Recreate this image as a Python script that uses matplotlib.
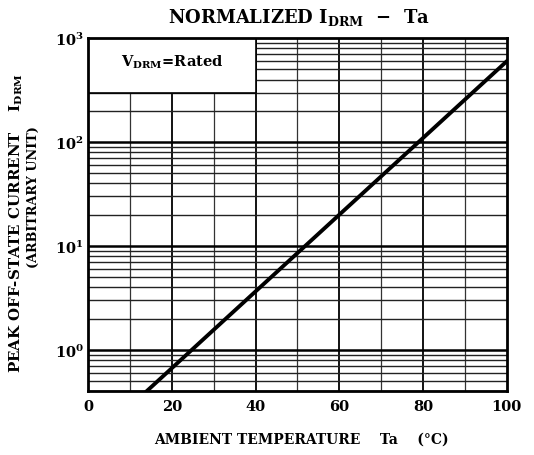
import matplotlib
matplotlib.use("Agg")
import matplotlib.pyplot as plt
import numpy as np
from matplotlib.patches import Rectangle

FONT = 'DejaVu Serif'
plt.rcParams['mathtext.fontset'] = 'custom'
plt.rcParams['mathtext.rm'] = 'DejaVu Serif:bold'
plt.rcParams['mathtext.bf'] = 'DejaVu Serif:bold'
plt.rcParams['mathtext.it'] = 'DejaVu Serif:bold'

# data
temperature = [14, 100]
current = [0.4, 600]
x_ticks = [0, 20, 40, 60, 80, 100]
y_ticks = [1, 10, 100, 1000]
y_ticklabels = [r"$10^{0}$", r"$10^{1}$", r"$10^{2}$", r"$10^{3}$"]

fig = plt.figure(figsize=(5.34, 4.56), dpi=100)
ax = fig.add_axes([0.165, 0.140, 0.784, 0.774])
ax.set_yscale('log')
ax.set_xlim(0, 100)
ax.set_ylim(0.4, 1000)

# grid
for xv in range(10, 100, 10):
    if xv % 20 == 0:
        ax.axvline(xv, color='black', lw=1.3, zorder=1)
    else:
        ax.axvline(xv, color='#333333', lw=0.9, zorder=1)
for dec in [0.1, 1, 10, 100]:
    for m in range(1, 10):
        yv = dec * m
        if yv < 0.4 or yv >= 1000:
            continue
        if m == 1:
            ax.axhline(yv, color='black', lw=1.8, zorder=1)
        else:
            ax.axhline(yv, color='#222222', lw=1.0, zorder=1)

# box for condition label
ax.add_patch(Rectangle((0, 300), 40, 700, facecolor='white', edgecolor='black',
                       lw=1.2, zorder=2))
ax.text(20, 600, r"V$_{\mathrm{DRM}}$=Rated", ha='center', va='center',
        fontsize=10.5, family=FONT, fontweight='bold', zorder=3)

ax.plot(temperature, current, color='black', lw=2.8, zorder=4)

for sp in ax.spines.values():
    sp.set_linewidth(2)
    sp.set_zorder(5)

ax.set_xticks(x_ticks)
ax.set_xticklabels([str(v) for v in x_ticks], family=FONT,
                   fontweight='bold', fontsize=10.5)
ax.set_yticks(y_ticks)
ax.set_yticklabels(y_ticklabels, fontsize=10.5)
ax.yaxis.set_minor_locator(matplotlib.ticker.NullLocator())
ax.tick_params(axis='x', length=0, pad=6)
ax.tick_params(axis='y', length=0, pad=3)

fig.text(0.56, 0.962, r"NORMALIZED I$_{\mathrm{DRM}}$  $-$  Ta", ha='center',
         va='center', fontsize=13, family=FONT, fontweight='bold')
fig.text(0.565, 0.035, "AMBIENT TEMPERATURE    Ta    (°C)", ha='center', va='center',
         fontsize=10, family=FONT, fontweight='bold')
fig.text(0.03, 0.511, r"PEAK OFF-STATE CURRENT    I$_{\mathrm{DRM}}$", rotation=90,
         ha='center', va='center', fontsize=10.8, family=FONT,
         fontweight='bold')
fig.text(0.062, 0.568, "(ARBITRARY UNIT)", rotation=90, ha='center', va='center',
         fontsize=9.2, family=FONT, fontweight='bold')

fig.savefig("out.png", dpi=100)
